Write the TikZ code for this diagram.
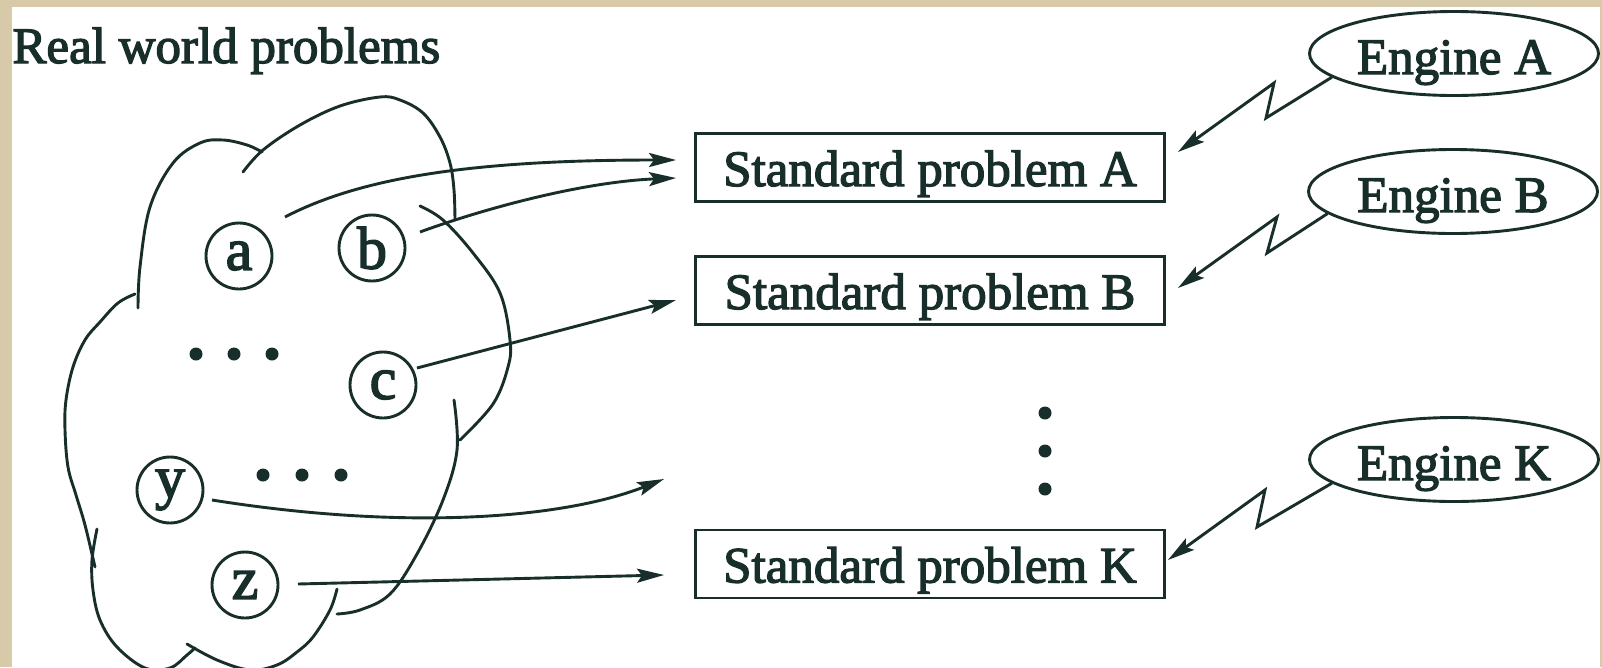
\documentclass[tikz,border=0pt]{standalone}
\usepackage{fontspec}
\setmainfont{Liberation Serif}
\newfontfamily\heavyserif{Liberation Serif}[FakeBold=2.5]
\usetikzlibrary{arrows.meta,shapes.geometric}
\definecolor{ink}{RGB}{24,46,42}
\definecolor{paper}{RGB}{214,202,168}
\begin{document}
\begin{tikzpicture}[x=1pt,y=-1pt,line width=2.9pt,color=ink,
  txt/.style={font=\heavyserif\fontsize{51}{56}\selectfont},
  probbox/.style={draw,rectangle,minimum width=469pt,minimum height=68pt,inner sep=0pt,
    text height=44pt,text depth=7pt,txt},
  engine/.style={draw,ellipse,minimum width=289pt,minimum height=84pt,inner sep=0pt,
    text height=45pt,text depth=4pt,txt},
  elem/.style={draw,circle,minimum size=66pt,inner sep=0pt,font=\heavyserif\fontsize{60}{62}\selectfont},
  bigdot/.style={fill,circle,minimum size=13pt,inner sep=0pt},
  flow/.style={-{Stealth[length=27pt,width=14pt,inset=5pt]}},
  cloudline/.style={line cap=round,smooth,tension=0.6}]
\useasboundingbox (0,0) rectangle (1602,667);
\fill[paper] (0,0) rectangle (1602,667);
\fill[white] (12,7) rectangle (1600,667);

% title
\node[anchor=base west,inner sep=0pt,txt] (title) at (11,63) {Real world problems};

% cloud
\draw[cloudline] plot coordinates {(138,308) (140,267) (150,207) (173,163) (200,143) (223,140) (247,145) (262,152)};
\draw[cloudline] plot coordinates {(243,172) (263,150) (300,125) (340,106) (380,97) (400,100) (423,113) (440,137) (450,163) (454,190) (455,220)};
\draw[cloudline] plot coordinates {(420,206) (443,220) (473,253) (500,293) (510,340) (508,367) (493,404) (460,440)};
\draw[cloudline] plot coordinates {(454,400) (457,450) (443,500) (417,554) (390,594) (360,610) (337,614)};
\draw[cloudline] plot coordinates {(337,589) (330,610) (313,637) (297,652) (277,665) (250,670) (217,660) (187,644)};
\draw[cloudline] plot coordinates {(135,294) (118,303) (100,322) (85,340) (73,367) (66,400) (65,430) (68,467) (76,495) (85,525) (95,567)};
\draw[cloudline] plot coordinates {(97,529) (92,560) (93,590) (100,620) (117,647) (145,668) (170,668) (187,655) (195,648)};

% elements
\node[elem] (a) at (239,256) {a};
\node[elem] (b) at (372,248) {b};
\node[elem] (c) at (383,385) {c};
\node[elem] (y) at (170,490) {y};
\node[elem] (z) at (245,585) {z};

\node[bigdot] (h1) at (196,354) {};
\node[bigdot] (h2) at (234,354) {};
\node[bigdot] (h3) at (272,354) {};
\node[bigdot] (k1) at (263,475) {};
\node[bigdot] (k2) at (302,475) {};
\node[bigdot] (k3) at (341,475) {};
\node[bigdot] (v1) at (1045,413) {};
\node[bigdot] (v2) at (1045,451) {};
\node[bigdot] (v3) at (1045,489) {};

% standard problems
\node[probbox] (sA) at (930,167.5) {Standard problem A};
\node[probbox] (sB) at (930,290.5) {Standard problem B};
\node[probbox] (sK) at (930,564) {Standard problem K};

% engines
\node[engine] (eA) at (1454,53.5) {Engine A};
\node[engine] (eB) at (1453,191.5) {Engine B};
\node[engine] (eK) at (1454,459.5) {Engine K};

% arrow ends
\coordinate (aout) at (285,217);
\coordinate (bout) at (420,232);
\coordinate (cout) at (417,368);
\coordinate (yout) at (212,500);
\coordinate (zout) at (298,584);
\coordinate (ain) at ([shift={(-18,-7.5)}]sA.west);
\coordinate (bin) at ([shift={(-18,10.5)}]sA.west);
\coordinate (cin) at ([shift={(-18,9.5)}]sB.west);
\coordinate (yin) at ([shift={(-30,-85)}]sK.west);
\coordinate (zin) at ([shift={(-30,11)}]sK.west);

\draw[flow] (aout) .. controls (360,178) and (470,160) .. (ain);
\draw[flow] (bout) .. controls (480,210) and (580,182) .. (bin);
\draw[flow] (cout) -- (cin);
\draw[flow] (yout) .. controls (400,530) and (560,520) .. (yin);
\draw[flow] (zout) -- (zin);

% lightning arrows
\coordinate (zA1) at (1266,118);
\coordinate (zA2) at (1274,83);
\coordinate (zB1) at (1267,253);
\coordinate (zB2) at (1277,217);
\coordinate (zK1) at (1257,527);
\coordinate (zK2) at (1265,490);
\draw[flow,line join=miter] (eA.191) -- (zA1) -- (zA2) -- ([shift={(12,-15.5)}]sA.east);
\draw[flow,line join=miter] (eB.190) -- (zB1) -- (zB2) -- ([shift={(12,-2.5)}]sB.east);
\draw[flow,line join=miter] (eK.191) -- (zK1) -- (zK2) -- ([shift={(2,-4)}]sK.east);
\end{tikzpicture}
\end{document}
